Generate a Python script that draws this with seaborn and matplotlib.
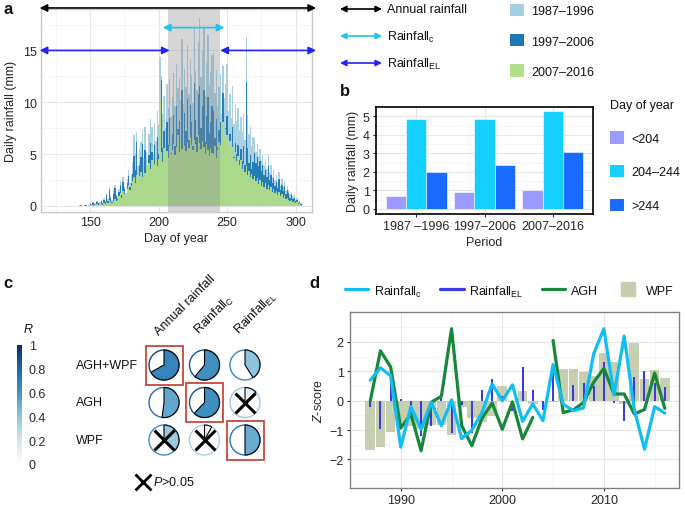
import numpy as np
import pandas as pd
import matplotlib
matplotlib.use('Agg')
import matplotlib.pyplot as plt
import seaborn as sns
from matplotlib.patches import Wedge, Circle, Rectangle, Patch, FancyArrowPatch
from matplotlib.lines import Line2D
from matplotlib.colors import LinearSegmentedColormap, Normalize
from matplotlib.cm import ScalarMappable

# ---------------- panel a: daily rainfall by day of year ----------------
days = list(range(140, 306))
periods = ['1987\u20131996', '1997\u20132006', '2007\u20132016']
rain_p1 = [0, 0, 0.1, 0, 0.05, 0, 0.1, 0, 0, 0.1,
           0.3, 0.2, 0.4, 0.1, 0.3, 0.5, 0.2, 0.4, 0.6, 0.3,
           0.8, 0.5, 1.2, 0.7, 1.8, 1.0, 0.6, 1.5, 2.0, 1.1,
           0.9, 1.6, 2.4, 1.3, 2.8, 1.9, 1.2, 2.6, 3.5, 2.2,
           3.0, 4.2, 6.8, 5.1, 7.1, 3.8, 5.5, 6.2, 7.3, 4.6,
           7.6, 5.2, 3.9, 6.9, 8.4, 7.6, 5.0, 8.0, 6.3, 9.2,
           7.8, 14.4, 12.5, 8.9, 10.6, 7.5, 11.8, 9.4, 12.2, 8.6,
           10.5, 12.8, 9.6, 13.7, 11.4, 12.3, 10.2, 16.1, 9.8, 13.2,
           11.5, 15.5, 10.8, 14.2, 12.6, 9.9, 17.3, 13.0, 11.2, 15.8,
           18.1, 12.4, 14.9, 17.3, 10.6, 13.8, 16.5, 11.7, 12.9, 14.6,
           14.8, 10.9, 13.1, 9.6, 11.5, 12.7, 8.9, 13.5, 10.4, 11.8,
           13.7, 9.2, 10.8, 8.5, 11.6, 7.9, 9.8, 8.2, 9.4, 7.3,
           8.6, 7.1, 9.0, 6.4, 16.3, 8.8, 6.9, 7.7, 5.8, 6.6,
           6.5, 5.2, 6.0, 4.8, 5.5, 4.3, 5.0, 3.8, 4.5, 3.6,
           4.9, 3.2, 3.9, 2.8, 3.5, 2.5, 3.0, 2.2, 3.3, 1.9,
           2.6, 1.8, 2.4, 1.4, 1.9, 1.5, 1.1, 1.3, 0.9, 1.0,
           0.6, 0.8, 0.4, 0.5, 0.3, 0.2]
rain_p2 = [0, 0, 0, 0.05, 0, 0, 0, 0.05, 0, 0,
           0.2, 0.1, 0.3, 0.2, 0.1, 0.4, 0.3, 0.2, 0.5, 0.3,
           0.6, 0.4, 1.0, 0.5, 1.5, 0.8, 0.4, 1.1, 1.7, 0.9,
           0.7, 1.3, 2.0, 1.0, 2.3, 1.6, 0.9, 2.2, 2.9, 1.8,
           2.2, 3.1, 4.8, 3.5, 6.2, 2.4, 3.9, 4.7, 6.0, 3.0,
           5.4, 3.6, 2.5, 4.9, 6.1, 5.2, 3.3, 5.9, 4.1, 6.6,
           5.0, 8.3, 12.1, 5.6, 7.2, 4.4, 8.1, 5.9, 8.5, 5.1,
           6.9, 8.8, 5.8, 9.6, 7.4, 8.2, 6.0, 11.2, 5.7, 9.0,
           7.2, 10.3, 6.4, 9.7, 8.1, 5.8, 11.9, 8.3, 6.6, 10.8,
           11.6, 7.5, 9.6, 11.2, 6.2, 8.7, 10.5, 7.0, 8.1, 9.6,
           9.2, 6.5, 8.4, 5.7, 7.3, 8.1, 5.2, 10.9, 6.4, 7.5,
           8.7, 5.6, 6.9, 5.0, 7.6, 4.7, 6.1, 5.0, 5.9, 4.4,
           5.5, 4.3, 5.8, 3.9, 12.0, 5.6, 4.1, 4.9, 3.6, 4.2,
           5.1, 4.1, 4.7, 3.8, 4.3, 3.4, 3.9, 3.0, 3.5, 2.8,
           3.8, 2.5, 3.0, 2.2, 2.7, 1.9, 2.3, 1.7, 2.6, 1.5,
           2.0, 1.4, 1.9, 1.1, 1.5, 1.2, 0.8, 1.0, 0.7, 0.8,
           0.5, 0.6, 0.3, 0.4, 0.2, 0.1]
rain_p3 = [0, 0, 0, 0, 0, 0, 0, 0, 0, 0,
           0.05, 0.1, 0.1, 0.05, 0.1, 0.15, 0.1, 0.2, 0.2, 0.1,
           0.3, 0.2, 0.4, 0.3, 0.6, 0.4, 0.3, 0.5, 0.7, 0.5,
           0.6, 0.9, 1.2, 0.8, 1.4, 1.1, 1.0, 1.6, 2.0, 1.5,
           1.9, 2.4, 2.8, 2.2, 3.0, 2.5, 2.9, 3.3, 2.8, 3.5,
           3.2, 3.8, 3.0, 4.1, 3.6, 4.4, 3.4, 4.0, 4.6, 3.8,
           4.5, 10.3, 5.2, 4.2, 5.6, 4.8, 5.3, 4.6, 5.8, 5.0,
           5.4, 6.0, 4.9, 5.7, 6.8, 5.2, 6.1, 5.5, 7.2, 5.8,
           5.3, 6.2, 5.6, 6.6, 5.9, 5.4, 6.4, 6.0, 5.2, 6.8,
           6.1, 5.5, 6.3, 5.7, 5.0, 6.0, 5.4, 4.8, 5.6, 5.1,
           5.0, 5.8, 4.6, 5.4, 6.2, 5.9, 7.1, 8.1, 6.5, 7.4,
           6.8, 5.9, 6.3, 5.1, 5.7, 4.6, 5.2, 4.3, 4.8, 3.9,
           4.4, 3.6, 4.0, 3.3, 3.8, 3.0, 3.4, 2.8, 3.1, 2.6,
           2.9, 2.4, 2.7, 2.1, 2.5, 1.9, 2.3, 1.8, 2.2, 1.6,
           2.0, 1.5, 1.8, 1.3, 1.6, 1.2, 1.4, 1.0, 1.3, 0.9,
           1.1, 0.8, 1.0, 0.7, 0.8, 0.6, 0.5, 0.6, 0.4, 0.5,
           0.3, 0.4, 0.2, 0.3, 0.1, 0.1]
period_colors = ['#A6CEE3', '#1F78B4', '#B2DF8A']

# core rainy window (shaded) and arrow spans, in day of year
core_window = [206.5, 244.5]
arrow_names = ['Annual rainfall', 'Rainfall$_\\mathregular{c}$', 'Rainfall$_\\mathregular{EL}$']
arrow_colors = ['black', '#1EC3F2', '#2424F0']
arrow_spans = [[(113, 315)], [(203, 248)], [(113, 208), (245, 315)]]
arrow_levels = [19.1, 17.2, 15.0]

# ---------------- panel b: mean daily rainfall per period ----------------
doy_groups = ['<204', '204\u2013244', '>244']
period_b = ['1987 \u20131996', '1997\u20132006', '2007\u20132016']
rain_early = [0.70, 0.93, 1.00]
rain_core = [4.85, 4.83, 5.28]
rain_late = [1.97, 2.38, 3.05]
doy_colors = ['#9B9BFF', '#14CFFF', '#1A6BFF']

# ---------------- panel c: correlation pies ----------------
c_rows = ['AGH+WPF', 'AGH', 'WPF']
c_cols = ['Annual rainfall', 'Rainfall$_\\mathregular{C}$', 'Rainfall$_\\mathregular{EL}$']
r_agh_wpf = [0.67, 0.61, 0.41]
r_agh = [0.52, 0.62, 0.13]
r_wpf = [0.37, 0.08, 0.50]
p_gt_005 = [[False, False, False], [False, False, True], [True, True, False]]
best_match = [[True, False, False], [False, True, False], [False, False, True]]

# ---------------- panel d: z-scores by year ----------------
years = list(range(1987, 2017))
z_rain_c = [0.70, 1.12, 0.85, -1.58, -0.20, -0.97, -0.05, -0.85, 0.03, -1.29,
            -1.00, -0.40, 0.57, 0.00, 0.54, -0.70, -0.11, -0.68, 1.23, -0.12,
            -0.34, -0.24, 1.60, 2.45, 0.20, 2.20, -0.30, -1.65, -0.20, -0.42]
z_rain_el = [-0.22, -0.95, 0.62, 0.05, -0.50, -1.20, -0.85, 0.10, -1.10, -0.15,
             -1.10, 0.37, 0.75, 0.15, -0.35, 1.15, 0.38, -0.30, 1.00, 0.02,
             0.55, 0.62, 0.50, 1.32, -0.08, -0.68, 0.80, 1.02, 0.60, 0.47]
z_agh = [0.00, 1.70, 1.15, -0.93, -0.45, -1.70, -0.05, 0.15, 2.45, -0.85,
         -1.53, -0.60, -0.08, -0.97, -0.04, -1.30, -0.57, np.nan, 2.05, -0.40,
         -0.31, -0.06, 0.63, 1.10, 0.23, 0.23, -0.45, -0.30, 0.94, -0.26]
z_wpf = [-1.67, -1.59, -1.05, -0.72, -0.85, -0.95, -0.82, -0.82, -1.16, -0.20,
         -0.58, -0.74, -0.51, 0.51, -0.05, 0.33, -0.10, 0.00, -0.05, 1.08,
         1.08, 0.98, 0.85, 1.61, 1.31, -0.10, 1.96, 0.74, 1.05, 0.78]

# ==========================================
# style
# ==========================================
sns.set_style('white')
plt.rcParams['font.family'] = ['Liberation Sans', 'DejaVu Sans']
plt.rcParams['mathtext.fontset'] = 'custom'
plt.rcParams['mathtext.rm'] = 'Liberation Sans'
plt.rcParams['mathtext.it'] = 'Liberation Sans:italic'
plt.rcParams['text.color'] = '#111111'
FS = 9

W, H = 685, 506
fig = plt.figure(figsize=(W / 100, H / 100), dpi=100)


def box(x0, y0, x1, y1):
    # pixel box (top-left origin) -> figure fraction rect
    return [x0 / W, 1 - y1 / H, (x1 - x0) / W, (y1 - y0) / H]


grid_kw = dict(color='#E6E6E6', lw=0.8)
minor_kw = dict(color='#F2F2F2', lw=0.5)

# ==========================================
# panel a
# ==========================================
ax_a = fig.add_axes(box(41, 10, 312, 213))
df_a = pd.DataFrame({'day': days * 3,
                     'rain': rain_p1 + rain_p2 + rain_p3,
                     'period': np.repeat(periods, len(days))})
for per, col in zip(periods, period_colors):
    sns.histplot(data=df_a[df_a['period'] == per], x='day', weights='rain',
                 discrete=True, color=col, alpha=0.95, linewidth=0,
                 ax=ax_a, zorder=2)
ax_a.axvspan(*core_window, color='#8C8C8C', alpha=0.35, lw=0, zorder=3)
ax_a.set_xlim(114, 312)
ax_a.set_ylim(-0.6, 19)
ax_a.set_xticks([150, 200, 250, 300])
ax_a.set_xticks([125, 175, 225, 275], minor=True)
ax_a.set_yticks([0, 5, 10, 15])
ax_a.set_yticks([2.5, 7.5, 12.5, 17.5], minor=True)
ax_a.grid(True, which='major', **grid_kw)
ax_a.grid(True, which='minor', **minor_kw)
ax_a.set_axisbelow(True)
ax_a.tick_params(length=0, labelsize=FS, pad=3)
ax_a.tick_params(which='minor', length=0)
ax_a.set_xlabel('Day of year', fontsize=FS, labelpad=3)
ax_a.set_ylabel('Daily rainfall (mm)', fontsize=FS, labelpad=4)
for s in ax_a.spines.values():
    s.set_color('#C8C8C8')
    s.set_linewidth(1)

for spans, col, lev in zip(arrow_spans, arrow_colors, arrow_levels):
    for x0, x1 in spans:
        ax_a.annotate('', xy=(x1, lev), xytext=(x0, lev), annotation_clip=False,
                      arrowprops=dict(arrowstyle='<|-|>', color=col, lw=1.2,
                                      mutation_scale=11, shrinkA=0, shrinkB=0),
                      zorder=6)

# arrow legend
for i, (name, col) in enumerate(zip(arrow_names, arrow_colors)):
    y = 1 - (10 + 27 * i) / H
    fig.add_artist(FancyArrowPatch(
        (340 / W, y), (382 / W, y), transform=fig.transFigure,
        arrowstyle='<|-|>', color=col, lw=1.2, mutation_scale=9,
        shrinkA=0, shrinkB=0))
    fig.text(387 / W, y, name, fontsize=FS, va='center', ha='left')

# period legend
fig.legend(handles=[Patch(facecolor=c, edgecolor='none') for c in period_colors],
           labels=periods, loc='upper left', bbox_to_anchor=(505 / W, 1 - 0 / H),
           frameon=False, fontsize=FS, handlelength=1.15, handleheight=1.15,
           labelspacing=1.33, handletextpad=0.55, borderaxespad=0)

fig.text(4 / W, 1 - 9 / H, 'a', fontsize=12, fontweight='bold', va='center')

# ==========================================
# panel b
# ==========================================
ax_b = fig.add_axes(box(376, 108, 593, 215))
df_b = pd.DataFrame({'period': period_b * 3,
                     'rain': rain_early + rain_core + rain_late,
                     'doy': np.repeat(doy_groups, len(period_b))})
sns.barplot(data=df_b, x='period', y='rain', hue='doy', hue_order=doy_groups,
            palette=doy_colors, saturation=1, width=0.9, ax=ax_b,
            edgecolor='white', linewidth=0.4, legend=False)
ax_b.set_xlim(-0.59, 2.59)
ax_b.set_ylim(-0.27, 5.5)
ax_b.set_yticks([0, 1, 2, 3, 4, 5])
ax_b.set_yticks([0.5, 1.5, 2.5, 3.5, 4.5], minor=True)
ax_b.grid(True, which='major', **grid_kw)
ax_b.grid(True, which='minor', axis='y', **minor_kw)
ax_b.set_axisbelow(True)
ax_b.tick_params(length=2.5, width=0.8, labelsize=FS, pad=2, bottom=True, left=True)
ax_b.tick_params(which='minor', length=0)
ax_b.set_xlabel('Period', fontsize=FS, labelpad=3)
ax_b.set_ylabel('Daily rainfall (mm)', fontsize=FS, labelpad=3)
for s in ax_b.spines.values():
    s.set_color('black')
    s.set_linewidth(1.2)
ax_b.legend(handles=[Patch(facecolor=c, edgecolor='none') for c in doy_colors],
            labels=doy_groups, title='Day of year', title_fontsize=FS,
            loc='upper left', bbox_to_anchor=(605 / W, 1 - 95 / H),
            bbox_transform=fig.transFigure, frameon=False, fontsize=FS,
            handlelength=1.15, handleheight=1.15, labelspacing=1.62,
            handletextpad=0.55, alignment='left', borderaxespad=0)
fig.text(340 / W, 1 - 92 / H, 'b', fontsize=12, fontweight='bold', va='center')

# ==========================================
# panel c
# ==========================================
cmap = LinearSegmentedColormap.from_list(
    'r_blues', ['#FFFFFF', '#D1E5F0', '#92C5DE', '#4393C3', '#2166AC', '#053061'])
ax_c = fig.add_axes(box(0, 260, 290, 506))
ax_c.set_xlim(0, 290)
ax_c.set_ylim(246, 0)
ax_c.axis('off')
r_matrix = [r_agh_wpf, r_agh, r_wpf]
cx0, cy0, dx, dy, rad = 164, 106, 40.5, 37.5, 15
for i, row in enumerate(c_rows):
    cy = cy0 + dy * i
    ax_c.text(76, cy, row, fontsize=FS, ha='left', va='center')
    for j in range(len(c_cols)):
        cx = cx0 + dx * j
        r = r_matrix[i][j]
        ax_c.add_patch(Circle((cx, cy), rad, fill=False,
                              edgecolor=cmap(min(r + 0.25, 1)), lw=1.0))
        ax_c.add_patch(Wedge((cx, cy), rad, -90, -90 + 360 * r, facecolor=cmap(r),
                             edgecolor='black', lw=0.8))
        if p_gt_005[i][j]:
            ax_c.plot(cx, cy, marker='x', ms=15, mew=2.2, color='black')
        if best_match[i][j]:
            ax_c.add_patch(Rectangle((cx - 18.5, cy - 19.5), 37, 39, fill=False,
                                     edgecolor='#C0392B', lw=1.2))
for j, col in enumerate(c_cols):
    ax_c.text(cx0 + dx * j - 3, 78, col, fontsize=FS, rotation=45,
              ha='left', va='bottom', rotation_mode='anchor')
ax_c.plot(143, 223, marker='x', ms=12, mew=2.0, color='black')
ax_c.text(153, 223, '$P$>0.05', fontsize=FS, ha='left', va='center')

cax = fig.add_axes(box(17, 346, 22, 465))
cb = fig.colorbar(ScalarMappable(norm=Normalize(0, 1), cmap=cmap), cax=cax,
                  ticks=[0, 0.2, 0.4, 0.6, 0.8, 1])
cb.outline.set_visible(False)
cb.ax.set_yticklabels(['0', '0.2', '0.4', '0.6', '0.8', '1'])
cb.ax.tick_params(length=0, labelsize=FS, pad=5)
fig.text(28 / W, 1 - 330 / H, 'R', fontsize=FS, style='italic', ha='center', va='center')
fig.text(3 / W, 1 - 283 / H, 'c', fontsize=12, fontweight='bold', va='center')

# ==========================================
# panel d
# ==========================================
ax_d = fig.add_axes(box(350, 313, 679, 489))
sns.barplot(x=years, y=z_wpf, native_scale=True, width=0.95, color='#B9C39E',
            alpha=0.8, saturation=1, linewidth=0, ax=ax_d, zorder=2)
sns.barplot(x=years, y=z_rain_el, native_scale=True, width=0.2, color='#3B3BE6',
            saturation=1, linewidth=0, ax=ax_d, zorder=3)
sns.lineplot(x=years, y=z_rain_c, color='#10BEF5', lw=2.3, ax=ax_d, zorder=5)
agh = pd.DataFrame({'year': years, 'z': z_agh})
first = agh[agh['year'] < 2004]
second = agh[agh['year'] > 2004]
sns.lineplot(data=first, x='year', y='z', color='#17873A', lw=2.3, ax=ax_d, zorder=4)
sns.lineplot(data=second, x='year', y='z', color='#17873A', lw=2.3, ax=ax_d, zorder=4)
ax_d.set_xlim(1985.1, 2017.4)
ax_d.set_ylim(-2.97, 3.02)
ax_d.set_xticks([1990, 2000, 2010])
ax_d.set_xticklabels(['1990', '2000', '2010'])
ax_d.set_xticks([1985, 1995, 2005, 2015], minor=True)
ax_d.set_yticks([-2, -1, 0, 1, 2])
ax_d.set_yticks([-2.5, -1.5, -0.5, 0.5, 1.5, 2.5], minor=True)
ax_d.grid(True, which='major', **grid_kw)
ax_d.grid(True, which='minor', **minor_kw)
ax_d.set_axisbelow(True)
ax_d.tick_params(length=2.5, width=0.8, labelsize=FS, pad=2, bottom=True, left=True)
ax_d.tick_params(which='minor', length=0)
ax_d.set_xlabel('')
ax_d.set_ylabel('$Z$-score', fontsize=FS, labelpad=3)
for s in ax_d.spines.values():
    s.set_color('#808080')
    s.set_linewidth(1)

d_handles = [Line2D([], [], color='#10BEF5', lw=2.3),
             Line2D([], [], color='#3B3BE6', lw=2.3),
             Line2D([], [], color='#17873A', lw=2.3),
             Line2D([], [], color='#C5CDAE', marker='s', ms=10.5, ls='none')]
d_labels = ['Rainfall$_\\mathregular{c}$', 'Rainfall$_\\mathregular{EL}$', 'AGH', 'WPF']
fig.legend(handles=d_handles, labels=d_labels, loc='center left', ncol=4,
           bbox_to_anchor=(340 / W, 1 - 292 / H), frameon=False, fontsize=FS,
           handlelength=1.85, handleheight=1.1, columnspacing=1.5, handletextpad=0.45,
           borderaxespad=0)
fig.text(309 / W, 1 - 283 / H, 'd', fontsize=12, fontweight='bold', va='center')

fig.savefig('out.png', dpi=100)
